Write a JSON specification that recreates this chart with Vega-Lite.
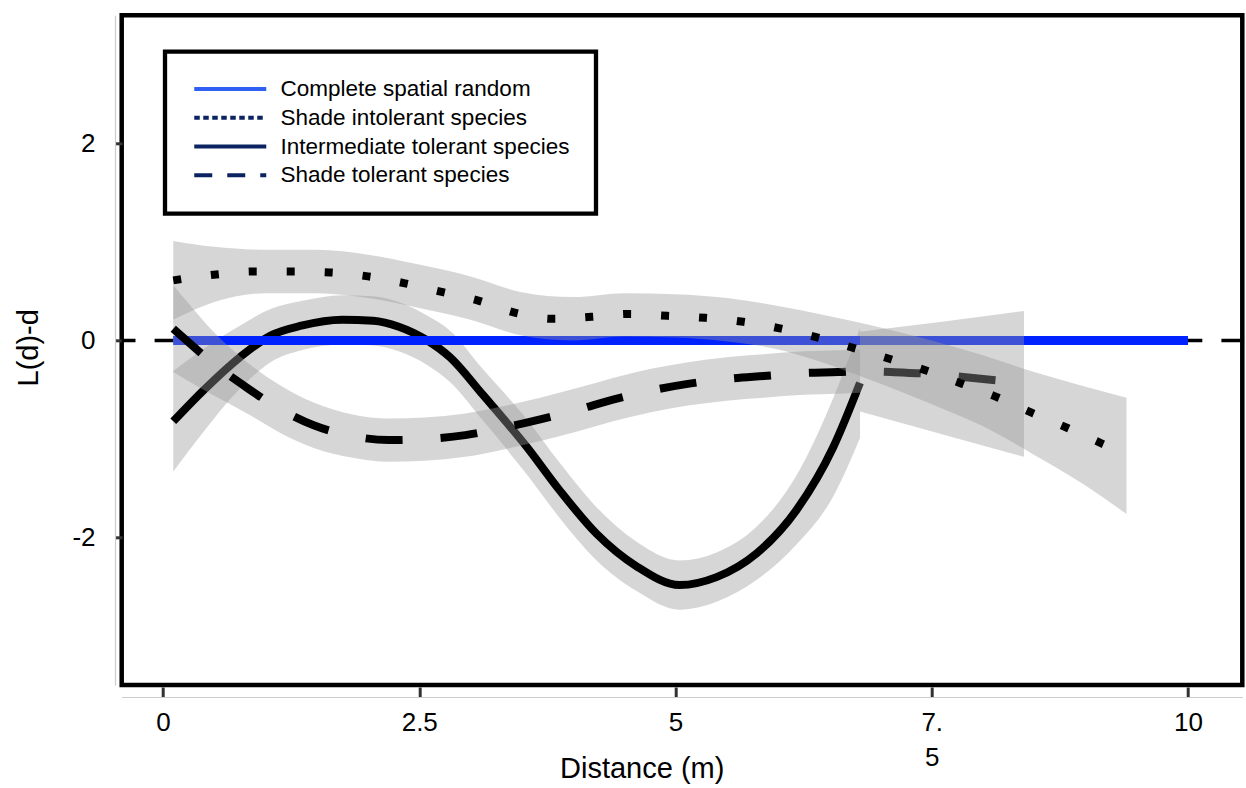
{
  "$schema": "https://vega.github.io/schema/vega-lite/v6.json",
  "autosize": {"type": "none"},
  "padding": {"left": 121.7, "top": 15.3, "right": 3.7, "bottom": 103},
  "width": 1120.6,
  "height": 669.7,
  "background": "white",
  "config": {
    "font": "Liberation Sans",
    "view": {"stroke": "black", "strokeWidth": 4.5},
    "legend": {"strokeColor": "black", "strokeWidth": 4.3, "fillColor": "white"}
  },
  "datasets": {
    "lines": [
      {"s": "Complete spatial random", "x": 0.1, "y": 0},
      {"s": "Complete spatial random", "x": 10, "y": 0},
      {"s": "Shade intolerant species", "x": 0.10, "y": 0.61},
      {"s": "Shade intolerant species", "x": 0.52, "y": 0.67},
      {"s": "Shade intolerant species", "x": 0.89, "y": 0.70},
      {"s": "Shade intolerant species", "x": 1.26, "y": 0.70},
      {"s": "Shade intolerant species", "x": 1.63, "y": 0.69},
      {"s": "Shade intolerant species", "x": 2.00, "y": 0.65},
      {"s": "Shade intolerant species", "x": 2.36, "y": 0.58},
      {"s": "Shade intolerant species", "x": 2.73, "y": 0.49},
      {"s": "Shade intolerant species", "x": 3.06, "y": 0.41},
      {"s": "Shade intolerant species", "x": 3.44, "y": 0.28},
      {"s": "Shade intolerant species", "x": 3.80, "y": 0.22},
      {"s": "Shade intolerant species", "x": 4.18, "y": 0.24},
      {"s": "Shade intolerant species", "x": 4.55, "y": 0.27},
      {"s": "Shade intolerant species", "x": 4.92, "y": 0.25},
      {"s": "Shade intolerant species", "x": 5.29, "y": 0.23},
      {"s": "Shade intolerant species", "x": 5.66, "y": 0.19},
      {"s": "Shade intolerant species", "x": 6.03, "y": 0.12},
      {"s": "Shade intolerant species", "x": 6.39, "y": 0.03},
      {"s": "Shade intolerant species", "x": 6.75, "y": -0.08},
      {"s": "Shade intolerant species", "x": 7.10, "y": -0.19},
      {"s": "Shade intolerant species", "x": 7.46, "y": -0.31},
      {"s": "Shade intolerant species", "x": 7.80, "y": -0.44},
      {"s": "Shade intolerant species", "x": 8.15, "y": -0.58},
      {"s": "Shade intolerant species", "x": 8.49, "y": -0.74},
      {"s": "Shade intolerant species", "x": 8.83, "y": -0.89},
      {"s": "Shade intolerant species", "x": 9.17, "y": -1.05},
      {"s": "Shade intolerant species", "x": 9.40, "y": -1.16},
      {"s": "Intermediate tolerant species", "x": 0.10, "y": -0.82},
      {"s": "Intermediate tolerant species", "x": 0.40, "y": -0.50},
      {"s": "Intermediate tolerant species", "x": 0.75, "y": -0.17},
      {"s": "Intermediate tolerant species", "x": 1.05, "y": 0.05},
      {"s": "Intermediate tolerant species", "x": 1.35, "y": 0.15},
      {"s": "Intermediate tolerant species", "x": 1.75, "y": 0.21},
      {"s": "Intermediate tolerant species", "x": 2.05, "y": 0.20},
      {"s": "Intermediate tolerant species", "x": 2.30, "y": 0.14},
      {"s": "Intermediate tolerant species", "x": 2.58, "y": 0.00},
      {"s": "Intermediate tolerant species", "x": 2.80, "y": -0.17},
      {"s": "Intermediate tolerant species", "x": 3.12, "y": -0.55},
      {"s": "Intermediate tolerant species", "x": 3.55, "y": -1.08},
      {"s": "Intermediate tolerant species", "x": 3.87, "y": -1.52},
      {"s": "Intermediate tolerant species", "x": 4.23, "y": -1.96},
      {"s": "Intermediate tolerant species", "x": 4.62, "y": -2.29},
      {"s": "Intermediate tolerant species", "x": 5.04, "y": -2.48},
      {"s": "Intermediate tolerant species", "x": 5.40, "y": -2.40},
      {"s": "Intermediate tolerant species", "x": 5.79, "y": -2.16},
      {"s": "Intermediate tolerant species", "x": 6.18, "y": -1.72},
      {"s": "Intermediate tolerant species", "x": 6.54, "y": -1.08},
      {"s": "Intermediate tolerant species", "x": 6.80, "y": -0.43},
      {"s": "Shade tolerant species", "x": 0.10, "y": 0.12},
      {"s": "Shade tolerant species", "x": 0.23, "y": 0.00},
      {"s": "Shade tolerant species", "x": 0.50, "y": -0.24},
      {"s": "Shade tolerant species", "x": 0.82, "y": -0.48},
      {"s": "Shade tolerant species", "x": 1.15, "y": -0.70},
      {"s": "Shade tolerant species", "x": 1.47, "y": -0.86},
      {"s": "Shade tolerant species", "x": 1.85, "y": -0.97},
      {"s": "Shade tolerant species", "x": 2.20, "y": -1.01},
      {"s": "Shade tolerant species", "x": 2.55, "y": -1.00},
      {"s": "Shade tolerant species", "x": 2.95, "y": -0.96},
      {"s": "Shade tolerant species", "x": 3.30, "y": -0.89},
      {"s": "Shade tolerant species", "x": 3.68, "y": -0.80},
      {"s": "Shade tolerant species", "x": 4.05, "y": -0.70},
      {"s": "Shade tolerant species", "x": 4.39, "y": -0.60},
      {"s": "Shade tolerant species", "x": 4.75, "y": -0.51},
      {"s": "Shade tolerant species", "x": 5.12, "y": -0.44},
      {"s": "Shade tolerant species", "x": 5.50, "y": -0.39},
      {"s": "Shade tolerant species", "x": 5.86, "y": -0.36},
      {"s": "Shade tolerant species", "x": 6.25, "y": -0.33},
      {"s": "Shade tolerant species", "x": 6.59, "y": -0.32},
      {"s": "Shade tolerant species", "x": 6.80, "y": -0.31},
      {"s": "Shade tolerant species", "x": 7.10, "y": -0.32},
      {"s": "Shade tolerant species", "x": 7.50, "y": -0.34},
      {"s": "Shade tolerant species", "x": 8.00, "y": -0.39},
      {"s": "Shade tolerant species", "x": 8.40, "y": -0.43}
    ],
    "bands": [
      {"b": "I", "x": 0.10, "lo": 0.21, "hi": 1.01},
      {"b": "I", "x": 0.50, "lo": 0.39, "hi": 0.95},
      {"b": "I", "x": 1.00, "lo": 0.48, "hi": 0.92},
      {"b": "I", "x": 1.50, "lo": 0.48, "hi": 0.92},
      {"b": "I", "x": 2.00, "lo": 0.43, "hi": 0.87},
      {"b": "I", "x": 2.50, "lo": 0.33, "hi": 0.77},
      {"b": "I", "x": 3.00, "lo": 0.21, "hi": 0.65},
      {"b": "I", "x": 3.50, "lo": 0.05, "hi": 0.49},
      {"b": "I", "x": 4.00, "lo": 0.00, "hi": 0.44},
      {"b": "I", "x": 4.50, "lo": 0.04, "hi": 0.48},
      {"b": "I", "x": 5.00, "lo": 0.03, "hi": 0.47},
      {"b": "I", "x": 5.50, "lo": -0.01, "hi": 0.43},
      {"b": "I", "x": 6.00, "lo": -0.09, "hi": 0.35},
      {"b": "I", "x": 6.40, "lo": -0.21, "hi": 0.27},
      {"b": "I", "x": 6.80, "lo": -0.36, "hi": 0.18},
      {"b": "I", "x": 7.20, "lo": -0.52, "hi": 0.08},
      {"b": "I", "x": 7.60, "lo": -0.69, "hi": -0.03},
      {"b": "I", "x": 8.00, "lo": -0.87, "hi": -0.15},
      {"b": "I", "x": 8.50, "lo": -1.16, "hi": -0.32},
      {"b": "I", "x": 9.00, "lo": -1.47, "hi": -0.47},
      {"b": "I", "x": 9.40, "lo": -1.76, "hi": -0.58},
      {"b": "M", "x": 0.10, "lo": -1.33, "hi": -0.31},
      {"b": "M", "x": 0.40, "lo": -0.92, "hi": -0.08},
      {"b": "M", "x": 0.75, "lo": -0.49, "hi": 0.15},
      {"b": "M", "x": 1.05, "lo": -0.22, "hi": 0.32},
      {"b": "M", "x": 1.35, "lo": -0.10, "hi": 0.40},
      {"b": "M", "x": 1.75, "lo": -0.04, "hi": 0.46},
      {"b": "M", "x": 2.05, "lo": -0.05, "hi": 0.45},
      {"b": "M", "x": 2.30, "lo": -0.11, "hi": 0.39},
      {"b": "M", "x": 2.58, "lo": -0.25, "hi": 0.25},
      {"b": "M", "x": 2.80, "lo": -0.42, "hi": 0.10},
      {"b": "M", "x": 3.12, "lo": -0.81, "hi": -0.29},
      {"b": "M", "x": 3.55, "lo": -1.36, "hi": -0.80},
      {"b": "M", "x": 3.87, "lo": -1.80, "hi": -1.24},
      {"b": "M", "x": 4.23, "lo": -2.23, "hi": -1.69},
      {"b": "M", "x": 4.62, "lo": -2.54, "hi": -2.04},
      {"b": "M", "x": 5.04, "lo": -2.73, "hi": -2.23},
      {"b": "M", "x": 5.40, "lo": -2.65, "hi": -2.15},
      {"b": "M", "x": 5.79, "lo": -2.43, "hi": -1.89},
      {"b": "M", "x": 6.18, "lo": -2.07, "hi": -1.37},
      {"b": "M", "x": 6.54, "lo": -1.58, "hi": -0.58},
      {"b": "M", "x": 6.80, "lo": -0.99, "hi": 0.13},
      {"b": "T", "x": 0.10, "lo": -0.32, "hi": 0.56},
      {"b": "T", "x": 0.23, "lo": -0.40, "hi": 0.40},
      {"b": "T", "x": 0.50, "lo": -0.56, "hi": 0.08},
      {"b": "T", "x": 0.82, "lo": -0.74, "hi": -0.22},
      {"b": "T", "x": 1.15, "lo": -0.94, "hi": -0.46},
      {"b": "T", "x": 1.47, "lo": -1.09, "hi": -0.63},
      {"b": "T", "x": 1.85, "lo": -1.19, "hi": -0.75},
      {"b": "T", "x": 2.20, "lo": -1.23, "hi": -0.79},
      {"b": "T", "x": 2.55, "lo": -1.22, "hi": -0.78},
      {"b": "T", "x": 2.95, "lo": -1.18, "hi": -0.74},
      {"b": "T", "x": 3.30, "lo": -1.11, "hi": -0.67},
      {"b": "T", "x": 3.68, "lo": -1.02, "hi": -0.58},
      {"b": "T", "x": 4.05, "lo": -0.92, "hi": -0.48},
      {"b": "T", "x": 4.39, "lo": -0.82, "hi": -0.38},
      {"b": "T", "x": 4.75, "lo": -0.73, "hi": -0.29},
      {"b": "T", "x": 5.12, "lo": -0.66, "hi": -0.22},
      {"b": "T", "x": 5.50, "lo": -0.61, "hi": -0.17},
      {"b": "T", "x": 5.86, "lo": -0.58, "hi": -0.14},
      {"b": "T", "x": 6.25, "lo": -0.55, "hi": -0.11},
      {"b": "T", "x": 6.59, "lo": -0.54, "hi": -0.10},
      {"b": "T", "x": 6.80, "lo": -0.53, "hi": -0.09},
      {"b": "Ttail", "x": 6.80, "lo": -0.72, "hi": 0.09},
      {"b": "Ttail", "x": 7.60, "lo": -0.95, "hi": 0.19},
      {"b": "Ttail", "x": 8.40, "lo": -1.18, "hi": 0.30}
    ]
  },
  "layer": [
    {
      "data": {"values": [{"v": 0}]},
      "mark": {"type": "rule", "color": "black", "strokeWidth": 3.5, "strokeDash": [19, 19.1], "strokeDashOffset": 36.2},
      "encoding": {
        "y": {"field": "v", "type": "quantitative", "title": "L(d)-d",
          "scale": {"domain": [-3.4939, 3.2982], "nice": false, "zero": false},
          "axis": {"values": [-2, 0, 2], "labelExpr": "datum.value + ''", "offset": 6.7, "tickSize": -7, "tickWidth": 3, "tickColor": "#333333", "domainColor": "#cccccc", "domainWidth": 1.2, "grid": false, "labelFontSize": 26, "labelColor": "black", "labelPadding": 27, "labelOverlap": false, "labelFlush": false, "titleFontSize": 29, "titleFontWeight": "normal", "titleColor": "black", "titleX": -87, "titleY": 332, "titleBaseline": "middle"}}
      }
    },
    {
      "data": {"name": "bands"},
      "transform": [{"filter": "datum.b === 'M'"}],
      "mark": {"type": "area", "color": "#999999", "opacity": 0.4, "interpolate": "monotone"},
      "encoding": {
        "x": {"field": "x", "type": "quantitative", "title": "Distance (m)", "scale": {"domain": [-0.4029, 10.5298], "nice": false, "zero": false},
          "axis": {"values": [0, 2.5, 5, 7.5, 10], "labelExpr": "datum.value == 7.5 ? ['7.', '5'] : datum.value + ''", "offset": 12, "tickSize": -10, "tickWidth": 3, "tickColor": "#333333", "domainColor": "#cccccc", "domainWidth": 1.2, "grid": false, "labelFontSize": 26, "labelColor": "black", "labelPadding": 22, "labelLineHeight": 35, "labelOverlap": false, "labelFlush": false, "titleFontSize": 29, "titleFontWeight": "normal", "titleColor": "black", "titleX": 520, "titleY": 80, "titleBaseline": "alphabetic"}},
        "y": {"field": "lo", "type": "quantitative", "title": "L(d)-d", "scale": {"domain": [-3.4939, 3.2982], "nice": false, "zero": false}},
        "y2": {"field": "hi"}
      }
    },
    {
      "data": {"name": "lines"},
      "transform": [{"filter": "datum.s === 'Intermediate tolerant species'"}],
      "mark": {"type": "line", "color": "black", "strokeWidth": 8, "strokeCap": "butt", "interpolate": "monotone"},
      "encoding": {
        "x": {"field": "x", "type": "quantitative", "title": "Distance (m)", "scale": {"domain": [-0.4029, 10.5298], "nice": false, "zero": false}},
        "y": {"field": "y", "type": "quantitative", "title": "L(d)-d", "scale": {"domain": [-3.4939, 3.2982], "nice": false, "zero": false}}
      }
    },
    {
      "data": {"name": "lines"},
      "transform": [{"filter": "datum.s === 'Complete spatial random'"}],
      "mark": {"type": "line", "color": "#0022ff", "strokeWidth": 9, "strokeCap": "butt"},
      "encoding": {
        "x": {"field": "x", "type": "quantitative", "title": "Distance (m)", "scale": {"domain": [-0.4029, 10.5298], "nice": false, "zero": false}},
        "y": {"field": "y", "type": "quantitative", "title": "L(d)-d", "scale": {"domain": [-3.4939, 3.2982], "nice": false, "zero": false}}
      }
    },
    {
      "data": {"name": "bands"},
      "transform": [{"filter": "datum.b === 'T'"}],
      "mark": {"type": "area", "color": "#999999", "opacity": 0.4, "interpolate": "monotone"},
      "encoding": {
        "x": {"field": "x", "type": "quantitative", "title": "Distance (m)", "scale": {"domain": [-0.4029, 10.5298], "nice": false, "zero": false}},
        "y": {"field": "lo", "type": "quantitative", "title": "L(d)-d", "scale": {"domain": [-3.4939, 3.2982], "nice": false, "zero": false}},
        "y2": {"field": "hi"}
      }
    },
    {
      "data": {"name": "bands"},
      "transform": [{"filter": "datum.b === 'Ttail'"}],
      "mark": {"type": "area", "color": "#999999", "opacity": 0.4},
      "encoding": {
        "x": {"field": "x", "type": "quantitative", "title": "Distance (m)", "scale": {"domain": [-0.4029, 10.5298], "nice": false, "zero": false}},
        "y": {"field": "lo", "type": "quantitative", "title": "L(d)-d", "scale": {"domain": [-3.4939, 3.2982], "nice": false, "zero": false}},
        "y2": {"field": "hi"}
      }
    },
    {
      "data": {"name": "lines"},
      "transform": [{"filter": "datum.s === 'Shade tolerant species'"}],
      "mark": {"type": "line", "color": "black", "strokeWidth": 8, "strokeCap": "butt", "strokeDash": [37, 38], "interpolate": "monotone"},
      "encoding": {
        "x": {"field": "x", "type": "quantitative", "title": "Distance (m)", "scale": {"domain": [-0.4029, 10.5298], "nice": false, "zero": false}},
        "y": {"field": "y", "type": "quantitative", "title": "L(d)-d", "scale": {"domain": [-3.4939, 3.2982], "nice": false, "zero": false}}
      }
    },
    {
      "data": {"name": "bands"},
      "transform": [{"filter": "datum.b === 'I'"}],
      "mark": {"type": "area", "color": "#999999", "opacity": 0.4, "interpolate": "monotone"},
      "encoding": {
        "x": {"field": "x", "type": "quantitative", "title": "Distance (m)", "scale": {"domain": [-0.4029, 10.5298], "nice": false, "zero": false}},
        "y": {"field": "lo", "type": "quantitative", "title": "L(d)-d", "scale": {"domain": [-3.4939, 3.2982], "nice": false, "zero": false}},
        "y2": {"field": "hi"}
      }
    },
    {
      "data": {"name": "lines"},
      "transform": [{"filter": "datum.s === 'Shade intolerant species'"}],
      "mark": {"type": "line", "color": "black", "strokeWidth": 8, "strokeCap": "butt", "strokeDash": [8, 30], "interpolate": "monotone"},
      "encoding": {
        "x": {"field": "x", "type": "quantitative", "title": "Distance (m)", "scale": {"domain": [-0.4029, 10.5298], "nice": false, "zero": false}},
        "y": {"field": "y", "type": "quantitative", "title": "L(d)-d", "scale": {"domain": [-3.4939, 3.2982], "nice": false, "zero": false}}
      }
    },
    {
      "data": {"name": "lines"},
      "mark": {"type": "line", "opacity": 0, "strokeWidth": 4, "interpolate": "monotone"},
      "encoding": {
        "x": {"field": "x", "type": "quantitative", "title": "Distance (m)", "scale": {"domain": [-0.4029, 10.5298], "nice": false, "zero": false}},
        "y": {"field": "y", "type": "quantitative", "title": "L(d)-d", "scale": {"domain": [-3.4939, 3.2982], "nice": false, "zero": false}},
        "color": {"field": "s", "type": "nominal",
          "scale": {"domain": ["Complete spatial random", "Shade intolerant species", "Intermediate tolerant species", "Shade tolerant species"], "range": ["#2f5ff3", "#0b2461", "#0b2461", "#0b2461"]},
          "legend": {"title": null, "orient": "none", "legendX": 43.3, "legendY": 36.4, "padding": 26, "strokeColor": "black", "fillColor": "white", "symbolType": "M-1,0H17", "symbolSize": 64, "symbolOffset": -4, "symbolStrokeWidth": 4, "symbolOpacity": 1, "labelFontSize": 22.5, "labelColor": "black", "labelFont": "Liberation Sans", "labelOffset": 71, "labelLimit": 600, "rowPadding": 5.8}},
        "strokeDash": {"field": "s", "type": "nominal",
          "scale": {"domain": ["Complete spatial random", "Shade intolerant species", "Intermediate tolerant species", "Shade tolerant species"], "range": [[1, 0], [5.5, 3.5], [1, 0], [18, 15]]},
          "legend": {"title": null, "orient": "none", "legendX": 43.3, "legendY": 36.4, "padding": 26, "strokeColor": "black", "fillColor": "white", "symbolType": "M-1,0H17", "symbolSize": 64, "symbolOffset": -4, "symbolStrokeWidth": 4, "symbolOpacity": 1, "labelFontSize": 22.5, "labelColor": "black", "labelFont": "Liberation Sans", "labelOffset": 71, "labelLimit": 600, "rowPadding": 5.8}}
      }
    }
  ]
}
